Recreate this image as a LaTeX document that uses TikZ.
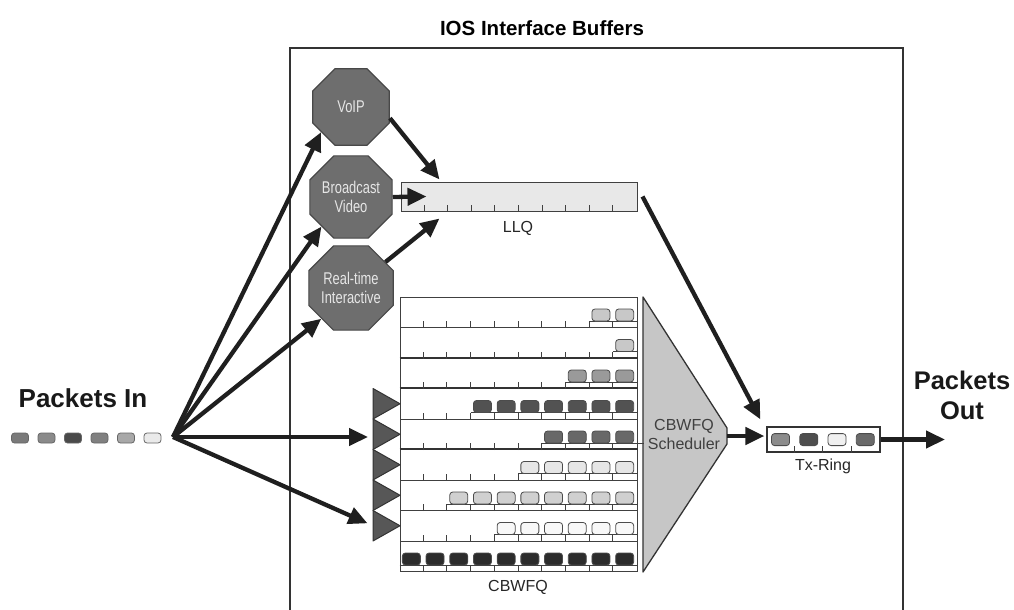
\documentclass[tikz,border=0pt]{standalone}
\usepackage{fontspec}
\setmainfont{Liberation Sans}
\newfontfamily\narrowfont[FakeStretch=0.76]{Liberation Sans}
\usetikzlibrary{arrows.meta,shapes.geometric,calc}
\definecolor{octfill}{HTML}{6E6E6E}
\definecolor{octdraw}{HTML}{484848}
\definecolor{octtext}{HTML}{E6E6E6}
\definecolor{llqfill}{HTML}{E8E8E8}
\definecolor{schedfill}{HTML}{C6C6C6}
\definecolor{trifill}{HTML}{575757}
\definecolor{pA}{HTML}{C8C8C8}
\definecolor{pB}{HTML}{9A9A9A}
\definecolor{pC}{HTML}{525252}
\definecolor{pD}{HTML}{686868}
\definecolor{pE}{HTML}{E6E6E6}
\definecolor{pF}{HTML}{D0D0D0}
\definecolor{pG}{HTML}{F8F8F8}
\definecolor{pH}{HTML}{2C2C2C}
\definecolor{inA}{HTML}{7A7A7A}
\definecolor{inB}{HTML}{8A8A8A}
\definecolor{inC}{HTML}{4A4A4A}
\definecolor{inD}{HTML}{808080}
\definecolor{inE}{HTML}{A8A8A8}
\definecolor{inF}{HTML}{EAEAEA}
\definecolor{txA}{HTML}{8C8C8C}
\definecolor{txB}{HTML}{4E4E4E}
\definecolor{txC}{HTML}{F0F0F0}
\definecolor{txD}{HTML}{6A6A6A}
\begin{document}
\begin{tikzpicture}[x=1pt,y=-1pt,
  arr/.style={line width=4.3pt,draw=black!88,-{Triangle[length=19pt,width=17pt]}},
  oct/.style={regular polygon,regular polygon sides=8,minimum size=83pt,inner sep=0pt,
    fill=octfill,draw=octdraw,line width=1.2pt,text=octtext,align=center,
    font=\narrowfont\fontsize{17}{19}\selectfont},
  pkt/.style={rounded corners=3pt,minimum width=18pt,minimum height=12pt,inner sep=0pt,
    draw=black!70,line width=0.8pt},
  inpkt/.style={rounded corners=3pt,minimum width=17pt,minimum height=10pt,inner sep=0pt,
    draw=black!60,line width=0.8pt},
  qrow/.style={rectangle,minimum width=237pt,minimum height=30.5pt,inner sep=0pt,
    draw=black!75,line width=1pt},
  tickline/.style={line width=1pt,draw=black!75},
  lbl/.style={font=\fontsize{16}{19}\selectfont,text=black!85,inner sep=0pt},
  big/.style={font=\bfseries\fontsize{26}{30}\selectfont,text=black!90,inner sep=0pt,align=center}
]
\useasboundingbox (0,0) rectangle (1014,610);

% title and frame
\node[font=\bfseries\fontsize{20.5}{24}\selectfont,inner sep=0pt] (title) at (542,28) {IOS Interface Buffers};
\draw[line width=1.5pt,draw=black!80] (290,612) -- (290,48) -- (903,48) -- (903,612);

% packets in
\node[big] (pin) at (83,398) {Packets In};
\foreach \n/\x/\c in {1/20/inA,2/46.5/inB,3/73/inC,4/99.5/inD,5/126/inE,6/152.5/inF}
  \node[inpkt,fill=\c] (in\n) at (\x,438) {};
\coordinate (fan) at (173,437);

% octagons
\node[oct] (voip) at (351,107) {VoIP};
\node[oct] (bv) at (351,197) {Broadcast\\Video};
\node[oct] (rt) at (351,288) {Real-time\\Interactive};

% LLQ
\node[rectangle,minimum width=236pt,minimum height=29pt,inner sep=0pt,fill=llqfill,
  draw=black!75,line width=1pt] (llq) at (519,196.5) {};
\foreach \k in {1,...,9}
  \draw[tickline] ($(llq.south west)+(\k*23.6,0)$) -- ++(0,-7);
\node[lbl] (llqlbl) at (518,228) {LLQ};

% CBWFQ rows
\foreach \i in {1,...,9}
  \node[qrow] (q\i) at (518.5,{297+(\i-0.5)*30.5}) {};
\draw[line width=2pt,draw=black!80] (q3.north west) -- (q3.north east);
\draw[line width=2pt,draw=black!80] (q4.north west) -- (q4.north east);
\draw[line width=2pt,draw=black!80] (q6.north west) -- (q6.north east);
\foreach \i in {1,...,9}
  \foreach \k in {1,...,9}
    \draw[tickline] ($(q\i.south west)+(\k*23.7,0)$) -- ++(0,-7);
\foreach \i/\first/\col in {1/9/pA,2/10/pA,3/8/pB,4/4/pC,5/7/pD,6/6/pE,7/3/pF,8/5/pG,9/1/pH}{
  \draw[tickline] ($(q\i.south west)+({(\first-1)*23.7},-7)$) -- ($(q\i.south east)+(0,-7)$);
  \foreach \j in {\first,...,10}
    \node[pkt,fill=\col] (p\i-\j) at ($(q\i.south west)+({(\j-0.5)*23.7},-13)$) {};
}
\node[lbl] (cbwfqlbl) at (518,587) {CBWFQ};

% classifier triangles
\foreach \i in {4,...,8}{
  \coordinate (tri\i) at (373,{297+(\i-0.5)*30.5});
  \draw[fill=trifill,draw=black!80,line width=1pt,line join=round]
    ($(tri\i)+(0,-15.25)$) -- ($(tri\i)+(27,0)$) -- ($(tri\i)+(0,15.25)$) -- cycle;
}

% scheduler
\draw[fill=schedfill,draw=black!80,line width=1.3pt,line join=round]
  (643,297) -- (727,428) -- (727,444) -- (643,572) -- cycle;
\coordinate (schedtip) at (727,436);
\draw[tickline] ($(q5.south east)+(0,-7)$) -- ($(q5.south east)+(6,-7)$);
\node[lbl,align=center,text=black!75] (schedlbl) at (684,434.5) {CBWFQ\\Scheduler};

% Tx ring
\node[rectangle,minimum width=113pt,minimum height=25pt,inner sep=0pt,fill=white,
  draw=black!80,line width=1.2pt] (tx) at (823.5,439.5) {};
\foreach \k in {1,2,3}
  \draw[tickline] ($(tx.south west)+(\k*28.25,0)$) -- ++(0,-7);
\foreach \j/\c in {1/txA,2/txB,3/txC,4/txD}
  \node[pkt,fill=\c] (t\j) at ($(tx.south west)+({(\j-0.5)*28.25},-13)$) {};
\node[lbl] (txlbl) at (823,466) {Tx-Ring};

% packets out
\node[big,font=\bfseries\fontsize{25.5}{30}\selectfont] (pout) at (962,395) {Packets\\Out};
\coordinate (outend) at (945,439.5);

% arrows
\draw[arr] (fan) -- (voip.220);
\draw[arr] (fan) -- (bv.225);
\draw[arr] (fan) -- (rt.226);
\draw[arr,shorten >=5pt] (fan) -- (fan -| tri5);
\draw[arr,shorten >=6pt] (fan) -- (tri8);
\draw[arr] (voip.-16) -- ($(llq.north west)+(39,-2)$);
\draw[arr] (bv.east) -- ($(llq.west)+(26,0)$);
\draw[arr] (rt.37) -- ($(llq.south west)+(39,7)$);
\draw[arr] ($(llq.east)+(5,0)$) -- ($(tx.north west)+(-6,-7)$);
\draw[arr,shorten >=2pt] (schedtip) -- (schedtip -| tx.west);
\draw[arr] (tx.east) -- (outend);
\end{tikzpicture}
\end{document}
